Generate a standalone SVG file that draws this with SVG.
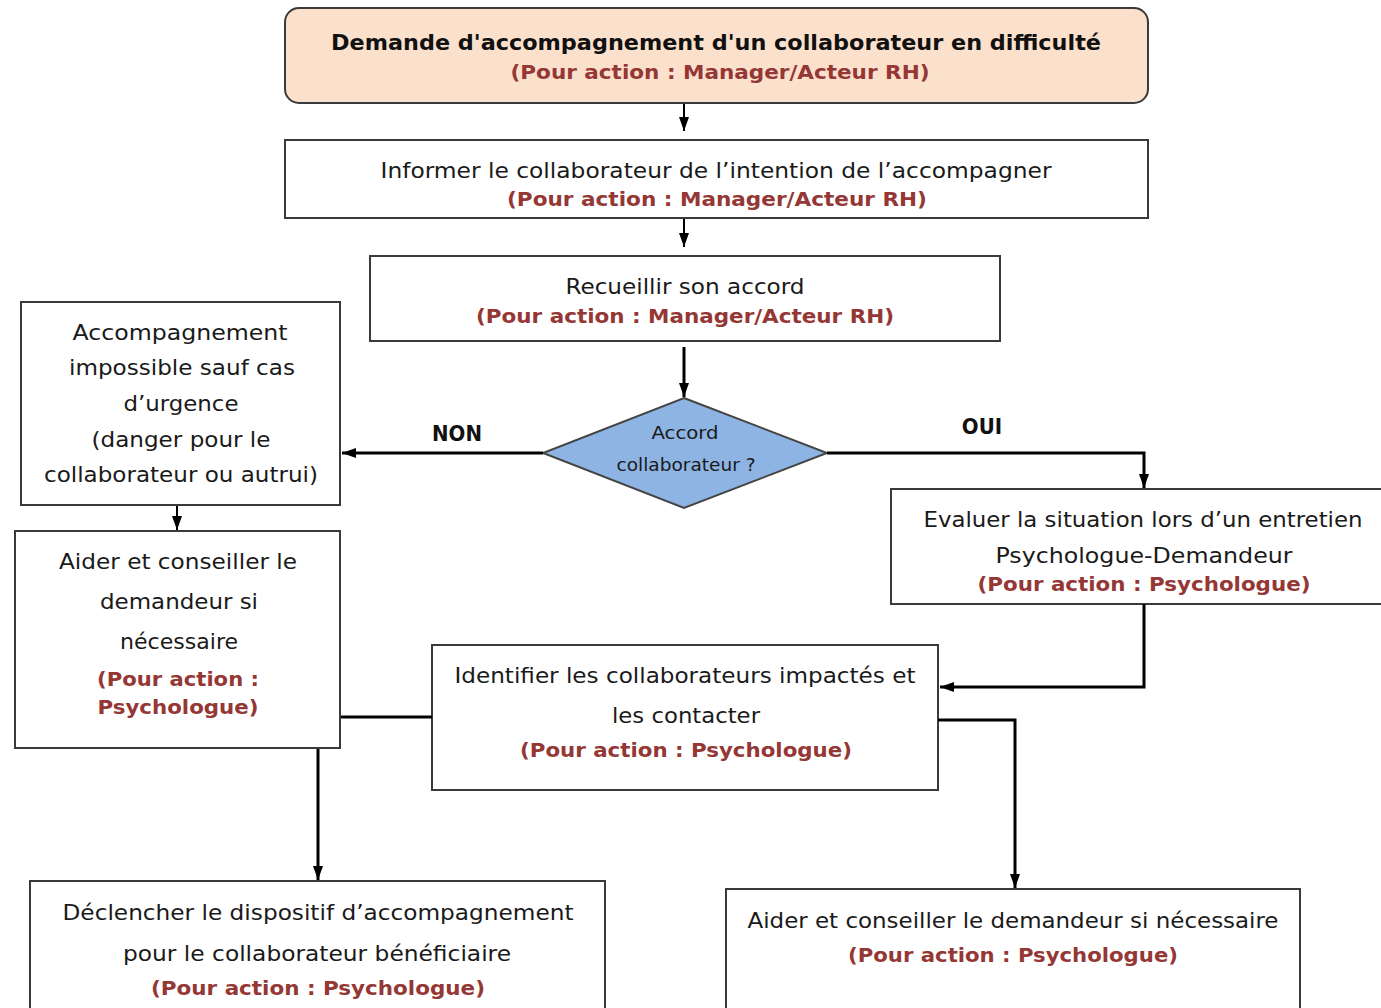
<svg xmlns="http://www.w3.org/2000/svg" width="1381" height="1008" viewBox="0 0 1381 1008">
<defs>
<marker id="ah" viewBox="0 0 14 10" refX="14" refY="5" markerWidth="14" markerHeight="10" markerUnits="userSpaceOnUse" orient="auto">
<path d="M0,0 L14,5 L0,10 z" fill="#000"/>
</marker>
<style>
.box{fill:#fff;stroke:#3a3a3a;stroke-width:2}
.t{font-family:"DejaVu Sans Condensed","DejaVu Sans",sans-serif;font-size:22px;fill:#1a1a1a;text-anchor:middle}
.r{font-family:"DejaVu Sans Condensed","DejaVu Sans",sans-serif;font-size:20px;font-weight:bold;fill:#953735;text-anchor:middle}
.b{font-family:"DejaVu Sans Condensed","DejaVu Sans",sans-serif;font-size:22px;font-weight:bold;fill:#111;text-anchor:middle}
.c{fill:none;stroke:#000;stroke-width:3}
</style>
</defs>
<rect width="1381" height="1008" fill="#fff"/>
<g id="n1">
<rect x="285" y="8" width="863" height="95" rx="14" fill="#fbe0cc" stroke="#3a3a3a" stroke-width="2"/>
<text class="b" x="716" y="50" textLength="770" lengthAdjust="spacingAndGlyphs">Demande d'accompagnement d'un collaborateur en difficulté</text>
<text class="r" x="720" y="79" textLength="419" lengthAdjust="spacingAndGlyphs">(Pour action : Manager/Acteur RH)</text>
</g>
<g id="n2">
<rect class="box" x="285" y="140" width="863" height="78"/>
<text class="t" x="716" y="178" textLength="671" lengthAdjust="spacingAndGlyphs">Informer le collaborateur de l’intention de l’accompagner</text>
<text class="r" x="717" y="206" textLength="420" lengthAdjust="spacingAndGlyphs">(Pour action : Manager/Acteur RH)</text>
</g>
<g id="n3">
<rect class="box" x="370" y="256" width="630" height="85"/>
<text class="t" x="685" y="294" textLength="239" lengthAdjust="spacingAndGlyphs">Recueillir son accord</text>
<text class="r" x="685" y="323" textLength="418" lengthAdjust="spacingAndGlyphs">(Pour action : Manager/Acteur RH)</text>
</g>
<g id="d1">
<polygon points="684,398 827,453 684,508 543,453" fill="#8db4e2" stroke="#444" stroke-width="2"/>
<text class="t" style="font-size:18px" x="685" y="439" textLength="67" lengthAdjust="spacingAndGlyphs">Accord</text>
<text class="t" style="font-size:18px" x="686" y="471" textLength="139" lengthAdjust="spacingAndGlyphs">collaborateur ?</text>
</g>
<g id="n4">
<rect class="box" x="21" y="302" width="319" height="203"/>
<text class="t" x="180" y="340" textLength="215" lengthAdjust="spacingAndGlyphs">Accompagnement</text>
<text class="t" x="182" y="375" textLength="226" lengthAdjust="spacingAndGlyphs">impossible sauf cas</text>
<text class="t" x="181" y="411" textLength="115" lengthAdjust="spacingAndGlyphs">d’urgence</text>
<text class="t" x="181" y="447" textLength="179" lengthAdjust="spacingAndGlyphs">(danger pour le</text>
<text class="t" x="181" y="482" textLength="274" lengthAdjust="spacingAndGlyphs">collaborateur ou autrui)</text>
</g>
<g id="n5">
<rect class="box" x="15" y="531" width="325" height="217"/>
<text class="t" x="178" y="569" textLength="238" lengthAdjust="spacingAndGlyphs">Aider et conseiller le</text>
<text class="t" x="179" y="609" textLength="158" lengthAdjust="spacingAndGlyphs">demandeur si</text>
<text class="t" x="179" y="649" textLength="118" lengthAdjust="spacingAndGlyphs">nécessaire</text>
<text class="r" x="178" y="686" textLength="162" lengthAdjust="spacingAndGlyphs">(Pour action :</text>
<text class="r" x="178" y="714" textLength="161" lengthAdjust="spacingAndGlyphs">Psychologue)</text>
</g>
<g id="n6">
<rect class="box" x="891" y="489" width="495" height="115"/>
<text class="t" x="1143" y="527" textLength="439" lengthAdjust="spacingAndGlyphs">Evaluer la situation lors d’un entretien</text>
<text class="t" x="1144" y="563" textLength="297" lengthAdjust="spacingAndGlyphs">Psychologue-Demandeur</text>
<text class="r" x="1144" y="591" textLength="333" lengthAdjust="spacingAndGlyphs">(Pour action : Psychologue)</text>
</g>
<g id="n7">
<rect class="box" x="432" y="645" width="506" height="145"/>
<text class="t" x="685" y="683" textLength="461" lengthAdjust="spacingAndGlyphs">Identifier les collaborateurs impactés et</text>
<text class="t" x="686" y="723" textLength="148" lengthAdjust="spacingAndGlyphs">les contacter</text>
<text class="r" x="686" y="757" textLength="332" lengthAdjust="spacingAndGlyphs">(Pour action : Psychologue)</text>
</g>
<g id="n8">
<rect class="box" x="30" y="881" width="575" height="140"/>
<text class="t" x="318" y="920" textLength="511" lengthAdjust="spacingAndGlyphs">Déclencher le dispositif d’accompagnement</text>
<text class="t" x="317" y="961" textLength="388" lengthAdjust="spacingAndGlyphs">pour le collaborateur bénéficiaire</text>
<text class="r" x="318" y="995" textLength="334" lengthAdjust="spacingAndGlyphs">(Pour action : Psychologue)</text>
</g>
<g id="n9">
<rect class="box" x="726" y="889" width="574" height="140"/>
<text class="t" x="1013" y="928" textLength="531" lengthAdjust="spacingAndGlyphs">Aider et conseiller le demandeur si nécessaire</text>
<text class="r" x="1013" y="962" textLength="330" lengthAdjust="spacingAndGlyphs">(Pour action : Psychologue)</text>
</g>
<g id="connectors">
<line class="c" style="stroke-width:2" x1="684" y1="104" x2="684" y2="131" marker-end="url(#ah)"/>
<line class="c" style="stroke-width:2" x1="684" y1="219" x2="684" y2="247" marker-end="url(#ah)"/>
<line class="c" x1="684" y1="347" x2="684" y2="397" marker-end="url(#ah)"/>
<line class="c" x1="543" y1="453" x2="342" y2="453" marker-end="url(#ah)"/>
<polyline class="c" points="827,453 1144,453 1144,488" marker-end="url(#ah)"/>
<line class="c" style="stroke-width:2" x1="177" y1="506" x2="177" y2="530" marker-end="url(#ah)"/>
<polyline class="c" points="1144,604 1144,687 940,687" marker-end="url(#ah)"/>
<line class="c" x1="341" y1="717" x2="432" y2="717"/>
<line class="c" x1="318" y1="749" x2="318" y2="880" marker-end="url(#ah)"/>
<polyline class="c" points="938,720 1015,720 1015,888" marker-end="url(#ah)"/>
<text class="b" x="457" y="441">NON</text>
<text class="b" x="982" y="434">OUI</text>
</g>
</svg>
